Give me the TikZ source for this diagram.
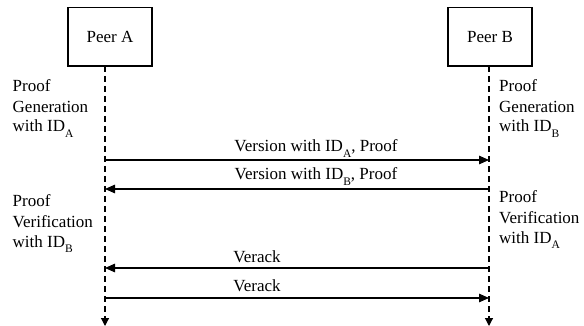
\documentclass[tikz,border=0pt]{standalone}
\usepackage{fontspec}
\setmainfont{Liberation Serif}
\usetikzlibrary{arrows.meta}
\newcommand\idsub[1]{ID\raisebox{-0.3em}{\fontsize{11.5}{11.5}\selectfont #1}}
\begin{document}
\begin{tikzpicture}[x=1pt,y=-1pt,
  txt/.style={font=\fontsize{17}{20}\selectfont,inner sep=0pt},
  peer/.style={txt,draw,line width=1.2pt,minimum width=84pt,minimum height=58.5pt},
  life/.style={line width=1.2pt,dash pattern=on 6pt off 4pt,-{Triangle[length=8pt,width=8pt]}},
  msg/.style={line width=1.3pt,-{Triangle[length=10pt,width=8.5pt]}},
  note/.style={txt,align=left,anchor=base west},
  mlabel/.style={txt,anchor=base}]
\useasboundingbox (0,0) rectangle (584,326);
\node[peer] (A) at (110,36.75) {Peer A};
\node[peer] (B) at (490,36.75) {Peer B};
\coordinate (aTop) at (105,66);
\coordinate (aEnd) at (105,326);
\coordinate (bTop) at (489,66);
\coordinate (bEnd) at (489,326);
\draw[life] (aTop) -- (aEnd);
\draw[life] (bTop) -- (bEnd);
% messages
\coordinate (a1) at (105,160); \coordinate (b1) at (489,160);
\coordinate (a2) at (105,189); \coordinate (b2) at (489,189);
\coordinate (a3) at (105,268); \coordinate (b3) at (489,268);
\coordinate (a4) at (105,298); \coordinate (b4) at (489,298);
\draw[msg] (a1) -- (b1);
\draw[msg] (b2) -- (a2);
\draw[msg] (b3) -- (a3);
\draw[msg] (a4) -- (b4);
\node[mlabel] (l1) at (316,152) {Version with \idsub{A}, Proof};
\node[mlabel] (l2) at (316,180) {Version with \idsub{B}, Proof};
\node[mlabel] (l3) at (257,262) {Verack};
\node[mlabel] (l4) at (257,291) {Verack};
% notes (base anchor = last line)
\node[note] (nA1) at (12.5,132) {Proof\\Generation\\with \idsub{A}};
\node[note] (nA2) at (12.5,247) {Proof\\Verification\\with \idsub{B}};
\node[note] (nB1) at (499,132) {Proof\\Generation\\with \idsub{B}};
\node[note] (nB2) at (499,243) {Proof\\Verification\\with \idsub{A}};
\end{tikzpicture}
\end{document}
